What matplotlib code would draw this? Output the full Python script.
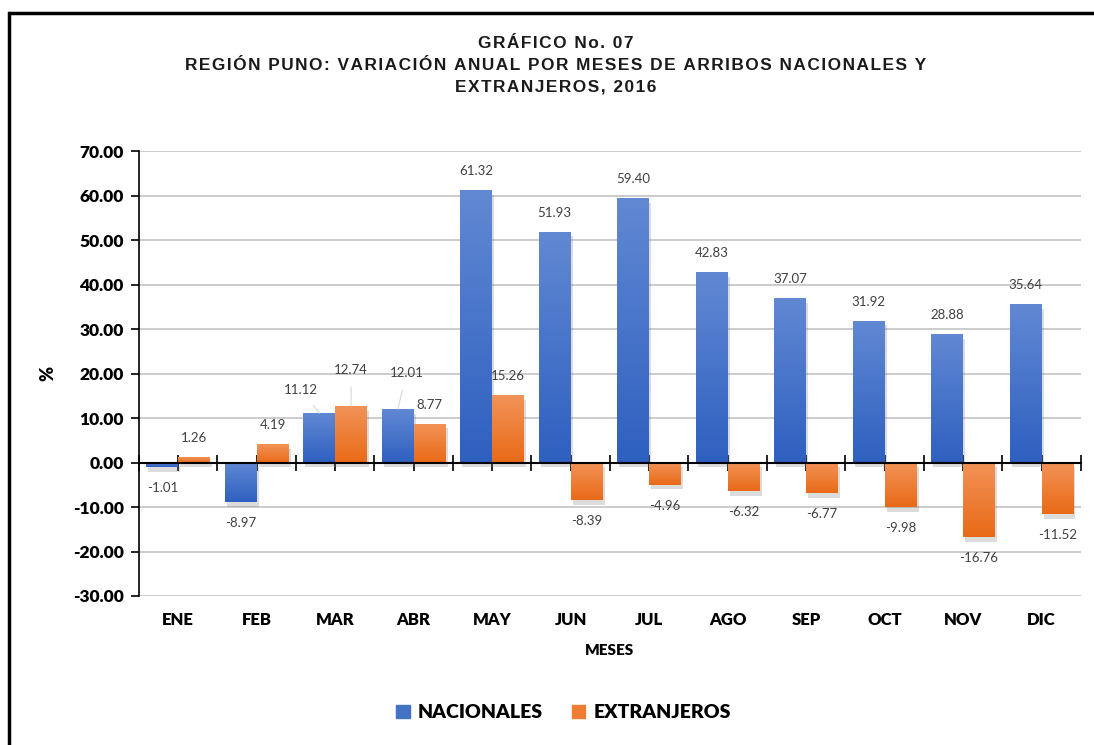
import numpy as np
import matplotlib.pyplot as plt
from matplotlib import patheffects as pe
from matplotlib.patches import Rectangle

# data
meses = ['ENE', 'FEB', 'MAR', 'ABR', 'MAY', 'JUN', 'JUL', 'AGO', 'SEP', 'OCT', 'NOV', 'DIC']
nacionales = [-1.01, -8.97, 11.12, 12.01, 61.32, 51.93, 59.40, 42.83, 37.07, 31.92, 28.88, 35.64]
extranjeros = [1.26, 4.19, 12.74, 8.77, 15.26, -8.39, -4.96, -6.32, -6.77, -9.98, -16.76, -11.52]
yticks = [-30, -20, -10, 0, 10, 20, 30, 40, 50, 60, 70]
titulo = ['GRÁFICO No. 07',
          'REGIÓN PUNO: VARIACIÓN ANUAL POR MESES DE ARRIBOS NACIONALES Y',
          'EXTRANJEROS, 2016']

body_font = ['Lato', 'DejaVu Sans']
title_font = ['Liberation Sans', 'DejaVu Sans']

fig = plt.figure(figsize=(10.94, 7.45), dpi=100)
ax = fig.add_axes([0.127, 0.2, 0.861, 0.597])

# frame around the picture
fig.patches.append(Rectangle((0.008, -0.05), 1.1, 1.033, transform=fig.transFigure,
                             fill=False, edgecolor='black', linewidth=2.5))

x = np.arange(len(meses))
w = 0.405

def gradient_bars(vals, offset, top, bottom):
    bars = ax.bar(x + offset, vals, w, color=bottom, zorder=3)
    grad = np.linspace(0, 1, 100).reshape(-1, 1)
    cmap = plt.matplotlib.colors.LinearSegmentedColormap.from_list('g', [top, bottom])
    for b in bars:
        b.set_path_effects([pe.SimplePatchShadow(offset=(1.5, -3.5), shadow_rgbFace='#777777', alpha=0.25),
                            pe.Normal()])
        x0, y0 = b.get_x(), b.get_y()
        x1, y1 = x0 + b.get_width(), y0 + b.get_height()
        lo, hi = min(y0, y1), max(y0, y1)
        im = ax.imshow(grad, aspect='auto', cmap=cmap, extent=(x0, x1, lo, hi),
                       origin='upper', zorder=3.5)
        im.set_clip_path(b)
    return bars

b1 = gradient_bars(nacionales, -w / 2, '#6188D3', '#2E60C0')
b2 = gradient_bars(extranjeros, w / 2, '#F29358', '#E96A17')

ax.set_xlim(-0.5, len(meses) - 0.5)
ax.set_ylim(-30, 70)
ax.set_yticks(yticks)
ax.set_yticklabels([f'{v:.2f}' for v in yticks], fontfamily=body_font,
                   fontweight='heavy', fontsize=12.5)
ax.tick_params(axis='y', direction='out', length=6, width=1.2, pad=5)
ax.grid(axis='y', color='#C8C8C8', linewidth=1.3, zorder=0)
ax.set_axisbelow(True)

for s in ['top', 'right']:
    ax.spines[s].set_visible(False)
ax.spines['left'].set_linewidth(1.2)
ax.spines['bottom'].set_position(('data', 0))
ax.spines['bottom'].set_linewidth(1.5)
ax.spines['bottom'].set_zorder(5)
ax.set_xticks(np.arange(-0.5, len(meses), 0.5))
ax.set_xticklabels([])
ax.tick_params(axis='x', direction='inout', length=12, width=1.2)

for i, m in enumerate(meses):
    ax.text(i, -0.053, m, transform=ax.get_xaxis_transform(), ha='center', va='center',
            fontfamily=body_font, fontweight='heavy', fontsize=12)
ax.text(0.5, -0.123, 'MESES', transform=ax.transAxes, ha='center', va='center',
        fontfamily=body_font, fontweight='heavy', fontsize=11)
ax.text(-0.097, 0.5, '%', transform=ax.transAxes, ha='center', va='center', rotation=90,
        fontfamily=body_font, fontweight='heavy', fontsize=13)

# data labels
special = {(0, 2): (-18, 23), (1, 2): (0, 36), (0, 3): (9, 36)}
for si, (bars, vals) in enumerate([(b1, nacionales), (b2, extranjeros)]):
    for i, (b, v) in enumerate(zip(bars, vals)):
        cx = b.get_x() + b.get_width() / 2
        if (si, i) in special:
            dx, dy = special[(si, i)]
            ax.annotate(f'{v:.2f}', (cx, v), xytext=(dx, dy), textcoords='offset pixels',
                        ha='center', va='center', fontsize=9.5, color='#404040',
                        fontfamily=body_font, zorder=6,
                        arrowprops=dict(arrowstyle='-', color='#D8D8D8', lw=0.8,
                                        shrinkA=6, shrinkB=0))
        else:
            dy = 19 if v >= 0 else -21
            ax.annotate(f'{v:.2f}', (cx, v), xytext=(0, dy), textcoords='offset pixels',
                        ha='center', va='center', fontsize=9.5, color='#404040',
                        fontfamily=body_font, zorder=6)

# title with letter spacing (hair spaces)
for line, yy in zip(titulo, [0.941, 0.912, 0.883]):
    fig.text(0.508, yy, '\u200a'.join(line), ha='center', va='center',
             fontfamily=title_font, fontweight='bold', fontsize=12.4, color='#1a1a1a')

handles = [Rectangle((0, 0), 1, 1, color='#4472C4'), Rectangle((0, 0), 1, 1, color='#ED7D31')]
fig.legend(handles, ['NACIONALES', 'EXTRANJEROS'], loc='center', bbox_to_anchor=(0.515, 0.043),
           ncol=2, frameon=False, prop={'family': body_font, 'weight': 'heavy', 'size': 14},
           handlelength=0.7, handleheight=0.7, handletextpad=0.4, columnspacing=1.5)

fig.savefig('out.png', dpi=100)
